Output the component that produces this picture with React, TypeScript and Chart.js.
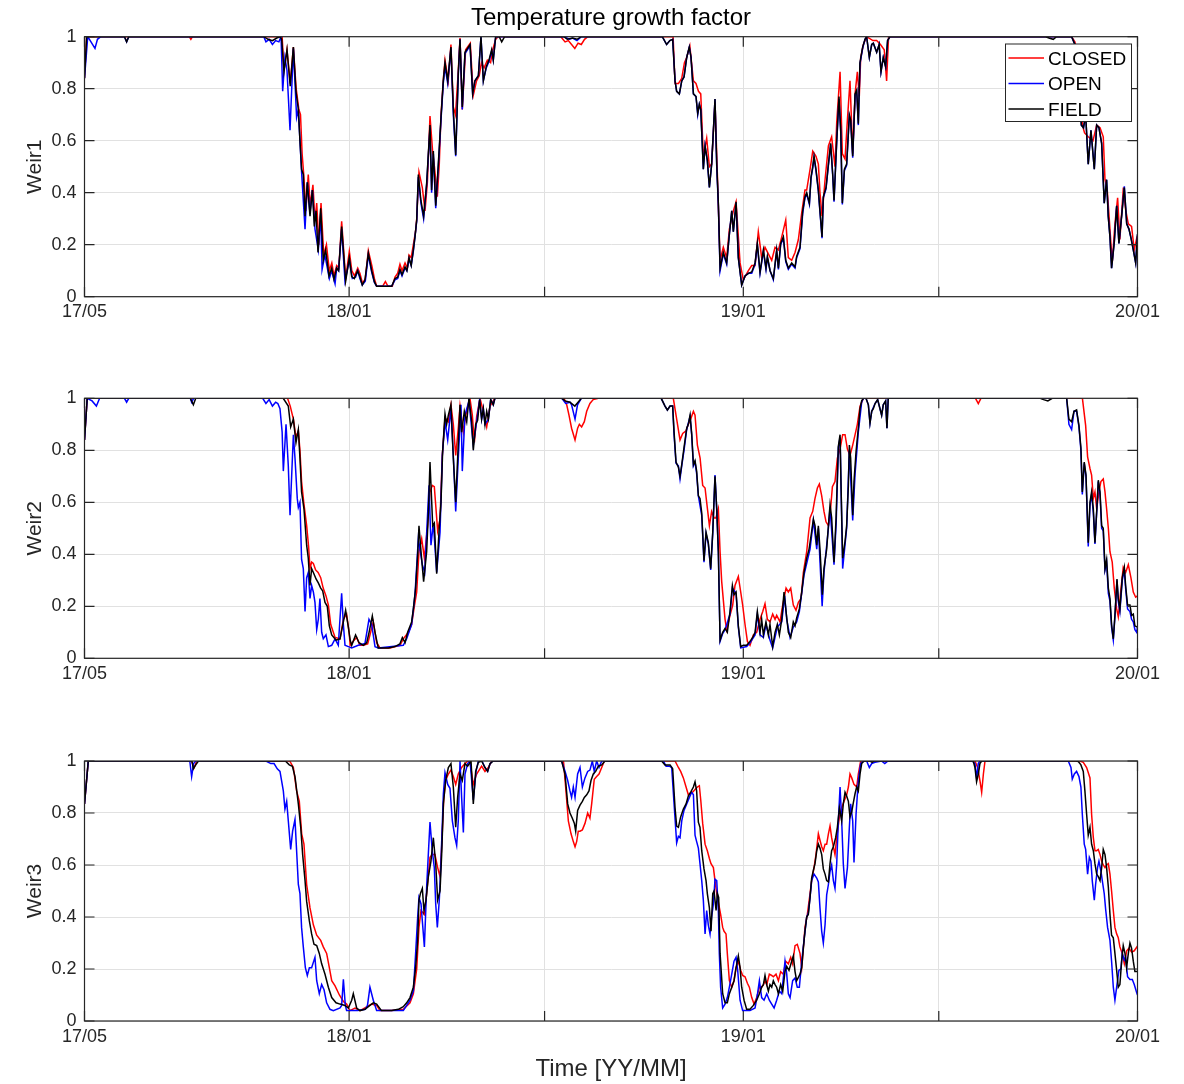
import { useEffect, useRef } from "react";
import { Chart, registerables } from "chart.js";

Chart.register(...registerables);

// x values are days since 1 May 2017, y values are the growth factor (0..1)
type Pt = [number, number];

const X_TICK_DAYS = [0, 245, 426, 610, 791, 975];
const X_TICK_LABELS = ["17/05", "18/01", "", "19/01", "", "20/01"];
const Y_TICKS = [0, 0.2, 0.4, 0.6, 0.8, 1];
const SERIES_NAMES = ["CLOSED", "OPEN", "FIELD"];
const SERIES_COLORS = ["#ff0000", "#0000ff", "#000000"];
const PANEL_LABELS = ["Weir1", "Weir2", "Weir3"];
const TITLE = "Temperature growth factor";
const X_LABEL = "Time [YY/MM]";

const WEIR1_CLOSED: Pt[] = [[0,0.84],[2,1],[97,1],[98.5,0.99],[100,1],[183,1],[184.7,0.87],[187.5,0.95],[190.5,0.82],[193.4,0.96],[196,0.8],[198.5,0.72],[200,0.7],[201.5,0.55],[203,0.47],[205,0.33],[207.2,0.47],[209,0.35],[211.5,0.43],[213.5,0.29],[215,0.36],[217,0.2],[219,0.36],[221.5,0.16],[224,0.2],[226.7,0.1],[229,0.13],[231,0.08],[233.5,0.12],[235.5,0.11],[238.1,0.29],[241.8,0.07],[245.2,0.175],[247.5,0.1],[250,0.08],[253,0.11],[255,0.09],[257.5,0.05],[260,0.07],[262.8,0.177],[266,0.12],[268.4,0.07],[270.5,0.04],[276,0.04],[278.6,0.058],[281,0.04],[285,0.04],[287.5,0.075],[290,0.09],[292.1,0.125],[294,0.1],[296.8,0.13],[299,0.11],[300.5,0.16],[302.5,0.15],[304.5,0.2],[306.5,0.25],[307.6,0.3],[309.7,0.48],[312.8,0.42],[315.3,0.33],[317.5,0.44],[319.9,0.695],[322.5,0.55],[324,0.5],[326.7,0.385],[328.5,0.51],[330.1,0.7],[332.5,0.85],[333.8,0.91],[336.8,0.83],[339.3,0.97],[341.5,0.73],[343.5,0.7],[346.1,0.87],[347.7,0.995],[349.8,0.72],[352.9,0.95],[357.2,0.975],[360,0.775],[363,0.83],[365.5,0.85],[367.5,0.9],[370,0.88],[373,0.91],[376,0.9],[378,0.95],[380.7,0.99],[383,1],[441,1],[445,0.98],[448,0.985],[451,0.97],[454,0.955],[457,0.975],[460,0.97],[463,0.99],[466,1],[545,1],[546.8,0.82],[550,0.82],[553,0.84],[555.5,0.9],[557.6,0.92],[560.5,0.965],[563.8,0.83],[566.2,0.82],[568.5,0.79],[570.6,0.78],[573,0.54],[576.1,0.61],[578.6,0.5],[580.7,0.51],[583.8,0.75],[586,0.47],[588.5,0.14],[591.5,0.19],[594.6,0.15],[597.1,0.26],[600.8,0.33],[603.3,0.365],[607,0.13],[610,0.065],[614.7,0.1],[617.8,0.12],[620.9,0.12],[623.9,0.25],[627,0.15],[630.1,0.19],[633.2,0.165],[636.3,0.14],[639.4,0.19],[642.5,0.18],[645.6,0.23],[649.3,0.295],[651.7,0.15],[654.8,0.14],[657.9,0.17],[661,0.22],[664,0.32],[667.1,0.41],[668.7,0.41],[671.8,0.49],[674.3,0.56],[677.3,0.54],[679.5,0.51],[681,0.4],[682.9,0.31],[685.7,0.45],[688.8,0.58],[691.8,0.615],[694.9,0.5],[696.5,0.67],[699.6,0.865],[701.7,0.55],[704.2,0.53],[706.4,0.68],[708.8,0.83],[711.3,0.55],[713.5,0.78],[715.6,0.865],[717.4,0.77],[718.7,0.92],[721.2,0.97],[724.2,1],[730,0.985],[733.5,0.985],[737,0.97],[740.5,0.95],[742.7,0.83],[744.5,1],[914,1],[917,0.98],[920,0.93],[922,0.8],[924,0.66],[926,0.63],[929.4,0.615],[933.8,0.6],[937.2,0.66],[940.3,0.65],[943.3,0.615],[944.9,0.45],[947,0.41],[949.5,0.26],[951.6,0.13],[954.1,0.28],[956.6,0.38],[958.7,0.22],[961.9,0.42],[964,0.335],[966.5,0.28],[969.5,0.27],[972,0.18],[974.5,0.23],[975,0.23]];

const WEIR1_OPEN: Pt[] = [[0,0.84],[3,1],[6,0.98],[9.7,0.955],[12,0.99],[15,1],[37,1],[39,0.98],[41,1],[166,1],[168,0.98],[171,0.99],[174,0.97],[177,0.985],[180,0.98],[182,1],[183.5,0.79],[185.6,0.92],[187.5,0.87],[190.3,0.64],[193.4,0.955],[196.4,0.69],[198,0.72],[201,0.48],[204.2,0.26],[206.3,0.44],[208.8,0.32],[211,0.41],[213.4,0.26],[216.5,0.18],[218.7,0.32],[220,0.105],[222.6,0.16],[226.7,0.07],[228.9,0.1],[232,0.05],[233.5,0.11],[235.3,0.1],[238.1,0.26],[241.2,0.06],[245.2,0.14],[248,0.07],[251,0.075],[253,0.1],[255,0.07],[257.2,0.045],[260,0.06],[262.8,0.16],[265.9,0.095],[268.4,0.055],[270.5,0.04],[284.4,0.04],[287.5,0.065],[290,0.07],[292.1,0.1],[294,0.08],[296.8,0.11],[298.5,0.1],[300.5,0.145],[302.5,0.12],[304.5,0.175],[306,0.23],[307.6,0.29],[309.1,0.46],[311.5,0.36],[314,0.3],[316.8,0.43],[319.9,0.65],[321.4,0.4],[323,0.55],[325.2,0.34],[327.6,0.5],[330.1,0.68],[332.2,0.82],[333.8,0.885],[336.3,0.82],[339.3,0.955],[341.5,0.7],[343.7,0.54],[346.1,0.85],[347.7,0.99],[349.8,0.72],[352.3,0.935],[357,0.965],[359.4,0.78],[361.5,0.83],[364.7,0.85],[367.1,1],[369.3,0.83],[372,0.88],[374.5,0.905],[377,0.945],[378.5,0.91],[380.7,1],[444,1],[449,0.99],[452,0.995],[456,0.985],[460,1],[535,1],[539,0.97],[542,0.985],[544.6,0.99],[546.8,0.83],[548.3,0.79],[550.8,0.78],[553,0.83],[555.1,0.845],[557.6,0.92],[560,0.96],[561.6,0.92],[563.8,0.78],[566.2,0.77],[567.8,0.7],[569.3,0.74],[570.6,0.72],[573,0.49],[574.6,0.58],[576.7,0.52],[578.6,0.42],[580.7,0.51],[583.8,0.76],[585.4,0.5],[586.9,0.35],[588.5,0.1],[591.5,0.165],[594.6,0.125],[597.1,0.24],[599.3,0.33],[600.8,0.25],[603.3,0.36],[605.4,0.15],[608.5,0.045],[611.6,0.08],[614.7,0.09],[617.8,0.09],[620.9,0.125],[623,0.2],[625.5,0.09],[628.6,0.175],[631,0.105],[632.3,0.15],[634.8,0.1],[637.8,0.065],[640.9,0.175],[642.5,0.105],[644.6,0.2],[647.1,0.225],[649.3,0.135],[651.7,0.105],[654.8,0.125],[657.9,0.11],[659.4,0.15],[662.5,0.185],[665,0.32],[667.1,0.38],[668.7,0.395],[671.2,0.355],[672.7,0.455],[674.3,0.495],[675.5,0.535],[677.3,0.485],[679.5,0.405],[681,0.325],[682.9,0.225],[684.1,0.38],[686.6,0.415],[688.8,0.505],[690.9,0.585],[692.8,0.465],[694,0.365],[696.5,0.595],[698.6,0.76],[700.2,0.635],[701.7,0.355],[703.6,0.485],[705.7,0.505],[708.2,0.695],[709.4,0.675],[711.3,0.535],[713.5,0.775],[715,0.79],[716.5,0.66],[718,0.895],[720.5,0.955],[722.7,0.99],[724.2,1],[726.7,0.92],[728.9,0.97],[730.4,0.975],[733.5,0.94],[735.8,0.97],[737.5,0.865],[739.6,0.92],[741.8,0.885],[743.6,0.985],[745.8,1],[914,1],[917,0.97],[919,0.9],[921,0.8],[923,0.66],[925,0.65],[927,0.7],[929.4,0.51],[931.9,0.64],[935,0.49],[937.2,0.66],[939.3,0.65],[941.8,0.59],[944.2,0.36],[946.4,0.45],[947.9,0.31],[949.5,0.23],[951,0.11],[953.5,0.21],[955.7,0.35],[957.8,0.205],[960.3,0.31],[962.8,0.425],[965,0.28],[967.1,0.26],[969,0.225],[971.1,0.18],[973.3,0.13],[975,0.24]];

const WEIR1_FIELD: Pt[] = [[0,0.84],[2,1],[37,1],[39,0.98],[41,1],[166,1],[170,0.99],[174,0.985],[178,0.995],[181,1],[182.6,0.99],[184.7,0.865],[187.5,0.95],[190.5,0.81],[193.4,0.96],[195.8,0.79],[198,0.72],[199.5,0.6],[201,0.49],[202.6,0.47],[204.2,0.31],[206.3,0.44],[208.8,0.31],[211,0.41],[212.8,0.27],[214.4,0.33],[216.2,0.17],[218.7,0.34],[221.1,0.14],[223.3,0.18],[226.4,0.08],[228.9,0.11],[231,0.067],[233.5,0.11],[235.3,0.1],[238.1,0.27],[241.8,0.06],[245.2,0.15],[247.4,0.077],[249.8,0.07],[252.9,0.1],[255,0.077],[257.2,0.045],[259.7,0.065],[262.8,0.167],[265.9,0.1],[268.4,0.058],[270.5,0.04],[284.4,0.04],[287.5,0.07],[290,0.075],[292.1,0.105],[294,0.085],[296.8,0.115],[298.5,0.1],[300.5,0.15],[302.5,0.12],[304.5,0.18],[306,0.23],[307.6,0.295],[309.1,0.47],[311.5,0.37],[314,0.31],[316.8,0.435],[319.9,0.66],[321.4,0.41],[323,0.56],[325.2,0.35],[327.6,0.51],[330.1,0.69],[332.2,0.83],[333.8,0.9],[336.3,0.83],[339.3,0.96],[341.5,0.72],[343.7,0.545],[346.1,0.86],[347.7,0.99],[349.8,0.73],[352.3,0.94],[357,0.97],[359.4,0.78],[361.5,0.83],[364.7,0.85],[367.1,1],[369.3,0.83],[372,0.885],[374.5,0.91],[377,0.95],[378.5,0.91],[380.7,1],[384,1],[386.3,0.98],[389,1],[444,1],[447,0.99],[452,0.995],[456,0.99],[460,1],[535,1],[539,0.97],[542,0.985],[544.6,0.99],[546.8,0.83],[548.3,0.79],[550.8,0.78],[553,0.83],[555.1,0.845],[557.6,0.92],[560,0.96],[561.6,0.92],[563.8,0.78],[566.2,0.77],[567.8,0.705],[569.3,0.74],[570.6,0.72],[573,0.49],[574.6,0.58],[576.7,0.525],[578.6,0.42],[580.7,0.51],[583.8,0.76],[585.4,0.51],[586.9,0.36],[588.5,0.11],[591.5,0.17],[594.6,0.13],[597.1,0.24],[599.3,0.33],[600.8,0.25],[603.3,0.365],[605.4,0.15],[608.5,0.045],[611.6,0.08],[614.7,0.09],[617.8,0.095],[620.9,0.13],[623,0.205],[625.5,0.095],[628.6,0.18],[631,0.11],[632.3,0.155],[634.8,0.1],[637.8,0.07],[640.9,0.18],[642.5,0.11],[644.6,0.205],[647.1,0.23],[649.3,0.14],[651.7,0.11],[654.8,0.13],[657.9,0.115],[659.4,0.155],[662.5,0.19],[665,0.33],[667.1,0.385],[668.7,0.4],[671.2,0.36],[672.7,0.46],[674.3,0.5],[675.5,0.54],[677.3,0.49],[679.5,0.41],[681,0.33],[682.9,0.23],[684.1,0.385],[686.6,0.42],[688.8,0.51],[690.9,0.59],[692.8,0.47],[694,0.37],[696.5,0.6],[698.6,0.77],[700.2,0.64],[701.7,0.36],[703.6,0.49],[705.7,0.51],[708.2,0.7],[709.4,0.68],[711.3,0.54],[713.5,0.78],[715,0.795],[716.5,0.665],[718,0.9],[720.5,0.96],[722.7,0.99],[724.2,1],[726.7,0.92],[728.9,0.97],[730.4,0.975],[733.5,0.94],[735.8,0.97],[737.5,0.865],[739.6,0.92],[741.8,0.885],[743.6,0.985],[745.8,1],[890,1],[893,0.995],[897,0.99],[900,1],[914,1],[917,0.97],[919,0.9],[921,0.8],[923,0.66],[925,0.65],[927,0.7],[929.4,0.51],[931.9,0.64],[935,0.49],[937.2,0.66],[939.3,0.65],[941.8,0.59],[944.2,0.36],[946.4,0.45],[947.9,0.31],[949.5,0.23],[951,0.11],[953.5,0.21],[955.7,0.35],[957.8,0.205],[960.3,0.31],[962.8,0.42],[965,0.28],[967.1,0.26],[969,0.225],[971.1,0.18],[973.3,0.13],[975,0.24]];

const WEIR2_CLOSED: Pt[] = [[0,0.84],[2.5,1],[188,1],[190.5,0.97],[193.4,0.92],[195.8,0.85],[198,0.875],[199.5,0.8],[201,0.68],[203,0.6],[205.7,0.51],[207.5,0.43],[208.8,0.345],[210.3,0.37],[211.9,0.365],[214,0.34],[216.3,0.33],[218.7,0.31],[221,0.27],[223.6,0.24],[225.8,0.205],[228,0.13],[232,0.08],[236.6,0.075],[239.7,0.15],[242.7,0.17],[245,0.1],[246,0.05],[249.8,0.07],[252,0.08],[255,0.05],[258.2,0.05],[262.2,0.055],[267.4,0.14],[270.5,0.06],[273.6,0.04],[282.9,0.04],[292.1,0.05],[295.2,0.075],[299.9,0.1],[302.9,0.13],[305.4,0.2],[307.6,0.255],[309.7,0.41],[312.2,0.46],[314.7,0.385],[317.7,0.51],[319.9,0.64],[322,0.665],[323.9,0.66],[327,0.49],[329.2,0.535],[331.3,0.78],[333.8,0.925],[336.9,0.91],[339.3,0.975],[341.5,0.9],[343.7,0.78],[346.1,0.885],[347.7,0.97],[350.8,0.87],[353,0.935],[356.9,1],[359.1,0.935],[361,0.83],[363.1,0.93],[366.2,1],[369.3,0.95],[372.4,0.89],[375.5,0.97],[378.5,0.99],[380,1],[444,1],[446.5,0.975],[448.6,0.935],[451,0.885],[454.2,0.84],[456.6,0.885],[458.2,0.9],[460.3,0.89],[462.8,0.91],[465,0.95],[468,0.98],[471,0.995],[475.8,1],[545.2,1],[548.3,0.92],[551.4,0.84],[553.9,0.865],[557,0.875],[559.1,0.9],[561.3,0.92],[563.8,0.95],[565.3,0.935],[567.5,0.82],[570,0.77],[572.4,0.665],[574.6,0.655],[576.1,0.6],[578.6,0.51],[580.7,0.565],[582.9,0.54],[584.7,0.54],[586.9,0.575],[588.5,0.41],[590,0.295],[593.1,0.15],[594.6,0.11],[597.7,0.165],[600.2,0.205],[602.3,0.28],[605.4,0.315],[607.6,0.255],[609.4,0.205],[611.6,0.13],[613.8,0.065],[616.2,0.05],[619.3,0.09],[622.4,0.1],[625.5,0.15],[628,0.18],[630.1,0.21],[632.3,0.15],[634.7,0.14],[637.2,0.17],[639.4,0.15],[640.9,0.165],[644,0.14],[646.5,0.205],[649.6,0.27],[651.7,0.255],[653.9,0.27],[656.3,0.205],[658.8,0.185],[661,0.215],[663.5,0.23],[665.6,0.33],[668.7,0.41],[671.8,0.54],[674.3,0.565],[676.4,0.615],[678.6,0.655],[680.4,0.67],[682.6,0.625],[684.7,0.565],[686.6,0.525],[688.8,0.51],[690.3,0.55],[692.5,0.66],[694.9,0.68],[697.1,0.77],[699.6,0.805],[702,0.86],[704.2,0.86],[706.4,0.805],[708.8,0.78],[711.3,0.82],[713.5,0.86],[715.6,0.9],[718.1,0.97],[721.2,1],[825,1],[827.6,0.98],[830,1],[924,1],[927,0.895],[928.8,0.775],[931,0.73],[932.5,0.705],[934.1,0.615],[935.6,0.64],[937.2,0.575],[939.3,0.64],[941.1,0.68],[943.3,0.69],[944.9,0.64],[946.4,0.575],[948,0.5],[949.5,0.41],[951.6,0.37],[953.5,0.27],[955.7,0.19],[957.2,0.16],[959.4,0.255],[961.8,0.35],[964,0.33],[966.5,0.36],[968.9,0.31],[971.1,0.255],[973.3,0.235],[975,0.24]];

const WEIR2_OPEN: Pt[] = [[0,0.84],[2.5,1],[7,0.99],[11,0.97],[14,1],[37,1],[39,0.985],[41,1],[98,1],[99.2,0.985],[101,1],[165,1],[168,0.98],[171,0.995],[174,0.97],[177,0.985],[179,0.98],[181,0.96],[183,0.87],[184.1,0.72],[186.6,0.9],[188.7,0.74],[190.3,0.55],[191.8,0.7],[193.4,0.86],[194.9,0.77],[197,0.615],[198,0.58],[199.5,0.6],[201,0.38],[202.6,0.345],[204.2,0.18],[205.7,0.31],[207.2,0.33],[208.8,0.23],[210.3,0.28],[211.9,0.255],[213.4,0.215],[215,0.11],[216.5,0.15],[218,0.23],[219.6,0.1],[221.1,0.075],[223.6,0.09],[225.8,0.045],[228.9,0.05],[232,0.075],[235,0.05],[238.1,0.25],[239.7,0.13],[241.2,0.05],[244.3,0.045],[247.4,0.04],[253.5,0.05],[259.7,0.057],[263.4,0.15],[265.9,0.13],[269,0.045],[272,0.04],[295.2,0.05],[298.3,0.075],[302.9,0.13],[306,0.245],[309.1,0.46],[312.8,0.36],[315,0.33],[319,0.665],[320.8,0.435],[323,0.52],[326.1,0.33],[329.2,0.485],[331.3,0.78],[333.8,0.91],[336.3,0.84],[339.3,0.96],[341.5,0.78],[343.7,0.565],[346.1,0.77],[348.6,0.975],[349.8,0.72],[352.3,0.935],[356,0.99],[360,0.82],[363.1,0.91],[365.9,0.995],[367.7,0.92],[369.3,0.96],[370.8,0.9],[374,0.92],[376.1,0.995],[378.5,0.975],[380,1],[442,1],[445.5,0.98],[449.5,0.985],[451,0.975],[454.2,0.92],[456.5,0.975],[460,1],[534,1],[537.5,0.97],[539.7,0.955],[542.2,0.97],[544.6,0.97],[545.9,0.86],[547.7,0.75],[549.9,0.74],[551.4,0.69],[553,0.74],[555.1,0.8],[557.6,0.88],[560.7,0.93],[562.2,0.86],[563.8,0.74],[565.3,0.755],[566.8,0.71],[568.4,0.625],[571.5,0.55],[573.6,0.37],[575.5,0.48],[577.6,0.44],[579.8,0.34],[581.7,0.48],[583.8,0.705],[585.4,0.57],[586.9,0.41],[588.5,0.065],[590.9,0.095],[593.1,0.11],[597.7,0.17],[599.9,0.27],[603.3,0.25],[605.4,0.12],[607.6,0.04],[613.1,0.045],[616.2,0.06],[620.9,0.09],[623,0.17],[625.5,0.09],[628.6,0.08],[631,0.13],[634.7,0.07],[637.2,0.04],[641.5,0.12],[645.6,0.14],[648.3,0.24],[650.2,0.15],[653.3,0.08],[656.3,0.12],[659.4,0.14],[661.9,0.18],[666.2,0.32],[671.8,0.42],[674.9,0.53],[678,0.42],[679.5,0.5],[683,0.2],[684.7,0.33],[688.8,0.5],[690.3,0.58],[694,0.36],[696,0.52],[698,0.81],[699.6,0.85],[702,0.345],[705.7,0.5],[708.2,0.8],[711.3,0.53],[713.5,0.71],[716.5,0.87],[719.6,0.985],[721.2,1],[723.6,1],[725.8,0.975],[727.3,0.905],[728.9,0.95],[732,0.98],[734.4,0.995],[738.1,0.935],[739.6,0.975],[741.8,0.99],[743,0.885],[744.2,1],[909.4,1],[911.5,0.9],[914,0.88],[916.2,0.95],[918.6,0.95],[920.8,0.89],[922.6,0.8],[923.9,0.63],[925.7,0.75],[927.3,0.7],[929.4,0.43],[931,0.59],[932.5,0.63],[934.1,0.56],[935.6,0.44],[937.2,0.56],[938.7,0.68],[940.3,0.63],[941.8,0.5],[943.3,0.49],[944.9,0.34],[946.4,0.37],[948,0.25],[949.5,0.22],[951,0.12],[952.6,0.07],[954.1,0.16],[956,0.3],[957.2,0.22],[958.7,0.18],[960.9,0.3],[962.8,0.34],[964,0.27],[965.8,0.19],[968,0.18],[969.5,0.15],[971.1,0.14],[972.6,0.11],[974.2,0.1],[975,0.12]];

const WEIR2_FIELD: Pt[] = [[0,0.84],[2.5,1],[98,1],[100.8,0.975],[103,1],[184,1],[188.7,0.97],[190.9,0.89],[193.4,0.92],[195.8,0.83],[198,0.88],[199.5,0.77],[201,0.64],[203.2,0.575],[205.7,0.435],[207.2,0.385],[208.8,0.28],[210.3,0.345],[211.9,0.33],[214.4,0.305],[216.5,0.29],[218.7,0.27],[220.5,0.26],[222.7,0.215],[224.8,0.2],[226.7,0.125],[228.9,0.09],[232.9,0.07],[236.6,0.075],[239.7,0.14],[241.8,0.185],[244.3,0.12],[246,0.07],[247.4,0.05],[251,0.09],[254.2,0.06],[258.2,0.05],[261.3,0.06],[263.5,0.1],[266.5,0.163],[269,0.1],[272,0.04],[281.3,0.04],[287.5,0.045],[292,0.055],[294.3,0.08],[296.8,0.06],[299.2,0.1],[302.9,0.14],[304.5,0.19],[306.6,0.27],[308.5,0.4],[309.7,0.51],[311.6,0.41],[314,0.295],[316.8,0.41],[318.4,0.56],[319.9,0.755],[321.4,0.61],[322.4,0.51],[323.9,0.52],[326.1,0.325],[328.2,0.485],[330.1,0.6],[331.6,0.795],[333.8,0.94],[335.3,0.9],[336.9,0.935],[339.3,0.975],[341.5,0.77],[343.7,0.6],[345.5,0.77],[347.7,0.975],[349.2,0.87],[351.7,0.95],[353.9,0.91],[356,1],[358.5,0.91],[360,0.8],[362.2,0.9],[364,0.915],[365.9,0.995],[367.7,0.92],[369.3,0.96],[370.8,0.9],[372.4,0.95],[374,0.92],[376.1,0.995],[378.5,0.975],[380,1],[442,1],[445,0.99],[449.5,0.985],[454,0.97],[457,0.985],[460,1],[534,1],[537.5,0.97],[539.7,0.955],[542.2,0.97],[544.6,0.97],[545.9,0.87],[547.7,0.755],[549.9,0.735],[551.4,0.7],[553,0.745],[555.1,0.81],[557.6,0.885],[559.1,0.9],[560.7,0.935],[562.2,0.865],[563.8,0.745],[565.3,0.76],[566.8,0.72],[568.4,0.625],[569.9,0.615],[571.5,0.56],[573.6,0.375],[575.5,0.485],[577.6,0.445],[579.8,0.345],[581.7,0.485],[583.8,0.7],[585.4,0.575],[586.9,0.41],[588.5,0.07],[590.9,0.1],[593.1,0.115],[595.2,0.1],[597.7,0.18],[599.9,0.28],[601.4,0.245],[603.3,0.255],[605.4,0.125],[607.6,0.045],[610,0.05],[613.1,0.05],[616.2,0.065],[618.7,0.08],[620.9,0.1],[623,0.18],[625.5,0.1],[627,0.15],[628.6,0.09],[631,0.14],[633.2,0.09],[634.7,0.13],[637.2,0.045],[639.4,0.1],[641.5,0.13],[643.4,0.09],[645.6,0.15],[647.7,0.255],[649.6,0.18],[651.7,0.1],[653.9,0.08],[656.3,0.14],[657.9,0.125],[659.4,0.155],[661.9,0.19],[664.1,0.255],[666.2,0.33],[668.7,0.385],[670.9,0.42],[672.7,0.47],[674.9,0.535],[676.4,0.51],[678,0.435],[679.5,0.51],[681,0.42],[683.2,0.245],[684.7,0.345],[687.2,0.42],[688.8,0.51],[690.3,0.59],[691.8,0.54],[694,0.37],[695.9,0.54],[698,0.815],[699.6,0.86],[700.5,0.665],[702,0.385],[704.2,0.45],[705.7,0.51],[707.3,0.665],[708.2,0.82],[709.4,0.77],[711.3,0.55],[712.5,0.68],[714.4,0.795],[716.5,0.885],[718.1,0.96],[719.6,0.99],[721.2,1],[723.6,1],[725.8,0.975],[727.3,0.905],[728.9,0.95],[730.4,0.96],[732,0.98],[734.4,0.995],[738.1,0.935],[739.6,0.975],[741.8,0.99],[743,0.885],[744.2,1],[885,1],[888,0.995],[892,0.99],[896,1],[909.4,1],[911.5,0.92],[914,0.91],[916.2,0.95],[918.6,0.955],[920.8,0.895],[922.6,0.81],[923.9,0.64],[925.7,0.755],[927.3,0.705],[929.4,0.445],[931,0.6],[932.5,0.64],[934.1,0.575],[935.6,0.445],[937.2,0.565],[938.7,0.685],[940.3,0.64],[941.8,0.51],[943.3,0.5],[944.9,0.345],[946.4,0.38],[948,0.27],[949.5,0.23],[951,0.13],[952.6,0.075],[954.1,0.165],[956,0.305],[957.2,0.23],[958.7,0.19],[960.9,0.31],[962.8,0.35],[964,0.28],[965.8,0.205],[968,0.205],[969.5,0.165],[971.1,0.17],[972.6,0.125],[975,0.12]];

const WEIR3_CLOSED: Pt[] = [[0,0.835],[3.5,1],[99,1],[101.5,0.975],[104,1],[190,1],[193.4,0.975],[196.4,0.885],[198.9,0.845],[201.1,0.72],[203.2,0.68],[205.7,0.525],[208.8,0.435],[211.9,0.37],[215,0.33],[218.7,0.31],[221.1,0.285],[224.2,0.26],[226.7,0.205],[228.9,0.155],[232,0.135],[236,0.1],[239.7,0.075],[242.7,0.065],[245.8,0.04],[250.5,0.05],[255.1,0.04],[265.9,0.065],[270.5,0.06],[273.6,0.04],[284.4,0.04],[295.2,0.045],[301.4,0.07],[304.5,0.105],[307.6,0.2],[309.7,0.36],[311.6,0.425],[314.7,0.41],[316.8,0.49],[319.9,0.63],[322,0.64],[324.5,0.64],[327,0.59],[329.2,0.555],[330.7,0.67],[332.6,0.85],[334.4,0.925],[336.9,0.95],[339.3,0.965],[341.5,0.94],[343.7,0.91],[346.1,0.95],[349.2,0.975],[352.3,0.99],[354.8,1],[357,0.995],[360,0.91],[363.1,0.95],[367.7,0.98],[370.8,0.96],[373.9,0.975],[377,1],[443.5,1],[445.5,0.9],[448,0.77],[450.5,0.72],[452.6,0.69],[454.2,0.67],[455.7,0.69],[457.2,0.73],[458.8,0.73],[461,0.735],[463.4,0.76],[465.9,0.8],[468,0.78],[469.6,0.835],[472,0.93],[474.2,0.94],[476.4,0.95],[478.9,0.975],[481.3,1],[546.8,1],[549.9,0.975],[552,0.96],[554.5,0.935],[557,0.9],[559.1,0.87],[560.7,0.875],[563.1,0.88],[565.3,0.89],[567.5,0.9],[569.3,0.905],[570.6,0.85],[572.4,0.76],[574.6,0.68],[576.7,0.655],[578.6,0.625],[580.1,0.605],[582.3,0.59],[583.8,0.54],[585.4,0.49],[587.2,0.45],[589,0.41],[590.9,0.36],[592.2,0.345],[594,0.335],[595.2,0.26],[597.1,0.155],[599.3,0.13],[601.4,0.155],[603.3,0.205],[605.4,0.23],[607.6,0.195],[609.4,0.175],[611.6,0.17],[613.8,0.145],[615.6,0.13],[617.8,0.09],[620,0.065],[622.4,0.09],[624.9,0.13],[627,0.13],[628.6,0.14],[630.1,0.155],[631.7,0.14],[634.1,0.18],[636.3,0.175],[637.8,0.17],[640.3,0.18],[642.5,0.155],[644.6,0.19],[647.1,0.18],[649.3,0.23],[651.7,0.22],[653.9,0.245],[655.7,0.22],[657.9,0.29],[660,0.295],[662.5,0.26],[664.1,0.205],[665.6,0.28],[667.1,0.36],[669.3,0.41],[671.8,0.49],[673.3,0.54],[675.5,0.59],[677.3,0.64],[679.5,0.72],[681,0.695],[682.6,0.67],[684.1,0.655],[685.7,0.68],[687.2,0.68],[688.8,0.72],[690.3,0.75],[691.8,0.705],[693.4,0.67],[694.9,0.64],[696.5,0.705],[699,0.785],[701.1,0.82],[703.3,0.845],[705.7,0.87],[707.3,0.9],[708.8,0.95],[710.4,0.935],[712.5,0.91],[715,0.9],[716.5,0.95],[718.7,1],[824.5,1],[827,0.975],[829.1,0.925],[830.7,0.88],[832.3,0.95],[833.8,1],[921.7,1],[924.8,0.995],[927.9,0.975],[931,0.935],[932.5,0.795],[934.1,0.705],[935.6,0.655],[937.2,0.655],[938.7,0.66],[940.3,0.64],[941.8,0.615],[943.3,0.6],[944.9,0.59],[946.4,0.6],[948,0.605],[949.5,0.565],[951,0.5],[952.6,0.425],[954.1,0.36],[955.7,0.335],[957.2,0.32],[958.7,0.285],[960.9,0.26],[962.8,0.22],[965,0.27],[967.1,0.28],[969.5,0.265],[972,0.27],[974.5,0.285],[975,0.28]];

const WEIR3_OPEN: Pt[] = [[0,0.835],[3.5,1],[97.5,1],[99.2,0.94],[101,0.99],[103,1],[168,1],[172.5,0.99],[175.5,0.99],[178.5,0.97],[181,0.96],[184.1,0.885],[185.6,0.815],[187.2,0.845],[188.7,0.77],[190.9,0.66],[192.7,0.73],[194.9,0.775],[196.4,0.655],[198,0.525],[199.5,0.49],[201,0.36],[202.6,0.285],[204.5,0.205],[206.3,0.175],[208.2,0.205],[210.3,0.205],[213.4,0.245],[215,0.155],[217.4,0.105],[219.6,0.14],[221.8,0.12],[224.2,0.07],[227.3,0.045],[230.4,0.04],[236.6,0.05],[238.1,0.06],[239.7,0.16],[241.5,0.06],[242.7,0.04],[245.8,0.04],[253,0.04],[260,0.045],[262,0.06],[264.3,0.13],[267.4,0.08],[270.5,0.04],[295.2,0.04],[298.3,0.06],[301.4,0.08],[304.5,0.115],[306.6,0.26],[308.5,0.4],[309.7,0.475],[311.6,0.45],[312.8,0.385],[314.7,0.285],[316.8,0.515],[318.4,0.645],[319.9,0.765],[322,0.655],[323.9,0.59],[325.2,0.45],[326.7,0.36],[328.5,0.465],[330,0.605],[332.3,0.875],[333.8,0.955],[336.3,0.91],[338.4,0.895],[340.6,0.77],[343,0.705],[344.6,0.675],[346.1,0.77],[347.7,1],[349.2,0.86],[350.8,0.725],[352.3,0.95],[354.8,0.99],[357,1],[360,0.85],[362.5,0.96],[364.7,1],[368,1],[370.8,0.975],[373.3,0.96],[375.5,0.99],[378,1],[441.8,1],[445,0.96],[447.4,0.925],[449.5,0.885],[451,0.86],[452.6,0.9],[454.2,0.86],[456.6,0.95],[458.8,0.975],[461,0.9],[463.4,0.935],[465.9,0.96],[468,0.965],[470.2,1],[472,0.96],[474.2,1],[476.4,0.975],[478.9,1],[536,1],[538.5,0.98],[541.5,0.98],[543.7,0.975],[545.9,0.835],[548.3,0.685],[549.9,0.71],[551.4,0.705],[553,0.77],[555.1,0.81],[557.6,0.835],[560.1,0.86],[562.2,0.88],[563.8,0.87],[565.3,0.715],[566.8,0.69],[568.4,0.665],[569.9,0.605],[571.5,0.54],[573,0.465],[574.6,0.335],[576.1,0.425],[577.6,0.37],[579.2,0.335],[580.7,0.4],[582.3,0.45],[583.8,0.545],[585.4,0.54],[586.9,0.425],[587.8,0.26],[589,0.13],[590.9,0.05],[593.1,0.065],[595.2,0.09],[597.1,0.13],[599.3,0.18],[601.4,0.23],[603.3,0.245],[604.8,0.195],[607,0.08],[609.4,0.04],[616.2,0.04],[620.9,0.05],[623,0.1],[624.9,0.155],[627,0.09],[629.2,0.08],[631.7,0.105],[634.1,0.08],[636.3,0.065],[638.5,0.05],[640.9,0.08],[643.4,0.115],[645.6,0.105],[648.6,0.23],[650.2,0.18],[651.7,0.105],[653.3,0.09],[655.7,0.155],[657.9,0.165],[660,0.13],[661.9,0.13],[664.1,0.23],[666.2,0.31],[668.7,0.4],[670.2,0.415],[671.8,0.475],[673.3,0.54],[675.5,0.565],[678,0.55],[679.5,0.535],[681,0.435],[682.6,0.345],[684.1,0.3],[685.7,0.37],[687.2,0.485],[688.8,0.525],[690.3,0.575],[691.8,0.6],[693.4,0.54],[694.9,0.51],[696.5,0.605],[698,0.77],[699.6,0.9],[701.1,0.77],[702.6,0.605],[704.2,0.51],[706.4,0.59],[708.2,0.745],[709.4,0.835],[711.3,0.77],[712.5,0.61],[714.4,0.795],[716.5,0.925],[718.7,0.99],[721.2,1],[724.2,1],[726.7,0.975],[728.9,0.99],[731.9,0.995],[738,1],[741,0.99],[744,1],[822,1],[824.5,0.99],[826,0.935],[827.6,0.99],[829,1],[910.9,1],[913.4,0.975],[914.6,0.93],[916.5,0.95],[918.6,0.96],[920.8,0.94],[922.6,0.9],[923.9,0.795],[925.7,0.68],[927,0.66],[928.8,0.565],[930.4,0.63],[931.9,0.615],[933.1,0.54],[935,0.465],[936.2,0.525],[938,0.59],[939.3,0.615],[941.2,0.575],[942.4,0.54],[944.2,0.49],[945.5,0.43],[947.3,0.36],[949.5,0.31],[951,0.23],[952.6,0.13],[954.1,0.08],[955.7,0.13],[957.8,0.195],[959.7,0.2],[960.9,0.26],[962.8,0.235],[964,0.245],[965.8,0.17],[968,0.16],[970.2,0.16],[972,0.14],[974.2,0.11],[975,0.1]];

const WEIR3_FIELD: Pt[] = [[0,0.835],[3.5,1],[98,1],[99.5,1],[100.8,0.97],[103,0.985],[105.5,1],[186,1],[189.6,0.985],[192.5,0.98],[194.9,0.94],[198,0.835],[200.2,0.745],[202,0.64],[204.2,0.54],[205.7,0.46],[208.2,0.385],[210.3,0.335],[212.5,0.295],[215,0.29],[217.4,0.26],[219.6,0.22],[222.7,0.18],[225.8,0.13],[228.9,0.09],[232.9,0.07],[236.6,0.065],[241.2,0.06],[244.3,0.05],[247.4,0.08],[248.9,0.105],[252,0.05],[255,0.04],[259.7,0.045],[264.3,0.06],[267.4,0.07],[270.5,0.065],[275,0.04],[284.4,0.04],[290.6,0.045],[295.2,0.055],[298.3,0.07],[301.4,0.09],[304.5,0.13],[306.6,0.205],[308.5,0.31],[309.7,0.465],[311,0.49],[312.8,0.51],[314.3,0.425],[316.2,0.465],[318.4,0.555],[320.8,0.615],[323,0.705],[325.2,0.605],[327,0.465],[329.2,0.5],[330.7,0.64],[332.3,0.835],[334.4,0.925],[336.9,0.975],[339.3,0.99],[341.5,0.9],[343.7,0.745],[345.5,0.86],[347.7,0.95],[349.8,0.925],[352.3,0.99],[354.8,0.98],[357.9,1],[360,0.835],[362.2,0.96],[364.7,0.995],[367.7,1],[370.8,0.975],[373.3,0.96],[375.5,0.99],[378.5,1],[441.8,1],[444.9,0.95],[447.4,0.835],[449.5,0.8],[451.7,0.78],[453.6,0.76],[454.8,0.73],[456.6,0.81],[458.8,0.83],[461,0.845],[462.8,0.86],[465,0.87],[467.1,0.885],[469,0.925],[471.1,0.95],[473.3,0.96],[475.8,0.98],[478.9,0.985],[481.9,1],[534.4,1],[537.5,0.985],[542.2,0.985],[544.6,0.97],[546.8,0.82],[548.3,0.75],[549.9,0.745],[552,0.785],[554.5,0.815],[557,0.835],[559.1,0.865],[561.3,0.88],[563.8,0.9],[565.3,0.92],[566.8,0.885],[568.4,0.765],[569.9,0.745],[571.5,0.655],[573.6,0.585],[575.5,0.54],[576.7,0.49],[578.6,0.435],[580.1,0.345],[581.7,0.49],[582.9,0.5],[584.8,0.425],[586,0.49],[587.2,0.475],[588.5,0.26],[590.9,0.105],[593.1,0.07],[595.2,0.07],[597.1,0.105],[599.3,0.13],[601.4,0.155],[603.3,0.205],[605.4,0.25],[607,0.205],[608.5,0.13],[610.7,0.08],[613.1,0.045],[616.2,0.045],[619.3,0.06],[622.4,0.08],[624.9,0.105],[627,0.13],[628.6,0.14],[630.1,0.175],[631.7,0.14],[633.2,0.115],[634.7,0.14],[636.3,0.13],[637.8,0.155],[639.4,0.14],[640.9,0.13],[642.5,0.105],[644.6,0.14],[646.5,0.115],[648.6,0.19],[650.2,0.21],[652.3,0.195],[654.8,0.23],[656.3,0.25],[657.9,0.19],[659.4,0.155],[661,0.168],[662.5,0.18],[664.1,0.205],[665.6,0.28],[667.1,0.345],[668.7,0.4],[670.2,0.41],[671.8,0.475],[673.3,0.55],[674.9,0.58],[676.4,0.605],[678,0.655],[679.5,0.68],[681,0.665],[682.6,0.64],[684.1,0.585],[685.7,0.565],[687.2,0.54],[688.8,0.535],[690.3,0.605],[691.8,0.655],[693.4,0.67],[695.5,0.705],[697.1,0.745],[699,0.82],[701.1,0.77],[702.6,0.835],[704.2,0.88],[705.7,0.865],[707.3,0.845],[708.8,0.785],[710.4,0.805],[711.9,0.84],[713.5,0.875],[715,0.9],[716.5,0.885],[718.1,0.95],[719.6,0.99],[721.8,1],[727.3,1],[729.4,0.995],[731,1],[822.9,1],[824.5,0.975],[826,0.92],[827.6,0.95],[829.1,0.99],[830.7,1],[918,1],[920.2,0.998],[922.6,0.985],[924.8,0.96],[926.3,0.885],[927.9,0.795],[929.4,0.715],[931,0.745],[932.5,0.68],[934.1,0.655],[935.6,0.605],[937.2,0.565],[938.7,0.555],[940.3,0.54],[941.8,0.59],[943.3,0.66],[944.9,0.64],[946.4,0.59],[948,0.515],[949.5,0.41],[951,0.33],[952.6,0.32],[954.1,0.26],[955.7,0.195],[957.2,0.13],[958.7,0.14],[960.3,0.23],[961.8,0.29],[963.4,0.26],[964.9,0.205],[966.5,0.26],[968,0.3],[969.5,0.28],[971.1,0.23],[972.6,0.19],[975,0.19]];

const PANEL_SERIES: Pt[][][] = [
  [WEIR1_CLOSED, WEIR1_OPEN, WEIR1_FIELD],
  [WEIR2_CLOSED, WEIR2_OPEN, WEIR2_FIELD],
  [WEIR3_CLOSED, WEIR3_OPEN, WEIR3_FIELD],
];

// page layout of the three stacked axes (canvas top, canvas height, plot-area top inside canvas)
const PANEL_LAYOUT = [
  { top: 0, height: 362, plotTop: 36.7 },
  { top: 362, height: 362, plotTop: 36.3 },
  { top: 724, height: 360, plotTop: 37 },
];
const PAGE_W = 1184;
const PLOT_H = 260;
const PLOT_LEFT = 84.5;
const PLOT_RIGHT_PAD = 46.5;

const FONT = "'Liberation Sans', Arial, Helvetica, sans-serif";
const AXIS_COLOR = "#262626";
const GRID_COLOR = "#e1e1e1";
const TICK_LEN = 10;

function framePlugin() {
  return {
    id: "axesFrame",
    afterDatasetsDraw(chart: any) {
      const { ctx, chartArea: a, scales } = chart;
      const xs = scales.x;
      const ys = scales.y;
      ctx.save();
      ctx.strokeStyle = AXIS_COLOR;
      ctx.lineWidth = 1.2;
      ctx.beginPath();
      for (const d of X_TICK_DAYS) {
        const px = xs.getPixelForValue(d);
        ctx.moveTo(px, a.bottom);
        ctx.lineTo(px, a.bottom - TICK_LEN);
        ctx.moveTo(px, a.top);
        ctx.lineTo(px, a.top + TICK_LEN);
      }
      for (const v of Y_TICKS) {
        const py = ys.getPixelForValue(v);
        ctx.moveTo(a.left, py);
        ctx.lineTo(a.left + TICK_LEN, py);
        ctx.moveTo(a.right, py);
        ctx.lineTo(a.right - TICK_LEN, py);
      }
      ctx.stroke();
      ctx.strokeRect(a.left, a.top, a.right - a.left, a.bottom - a.top);
      ctx.restore();
    },
  };
}

function titlePlugin() {
  return {
    id: "figureTitle",
    afterDraw(chart: any) {
      const { ctx, chartArea: a } = chart;
      ctx.save();
      ctx.fillStyle = "#000";
      ctx.font = `24px ${FONT}`;
      ctx.textAlign = "center";
      ctx.textBaseline = "middle";
      ctx.fillText(TITLE, (a.left + a.right) / 2, a.top - 18.5);
      ctx.restore();
    },
  };
}

function legendPlugin() {
  return {
    id: "boxLegend",
    afterDraw(chart: any) {
      const { ctx, chartArea: a } = chart;
      const w = 126;
      const h = 77.5;
      const left = a.right - 6 - w;
      const top = a.top + 7.3;
      ctx.save();
      ctx.fillStyle = "#fff";
      ctx.fillRect(left, top, w, h);
      ctx.strokeStyle = AXIS_COLOR;
      ctx.lineWidth = 1;
      ctx.strokeRect(left, top, w, h);
      ctx.font = `19px ${FONT}`;
      ctx.textAlign = "left";
      ctx.textBaseline = "middle";
      SERIES_NAMES.forEach((name, i) => {
        const rowY = top + 14 + i * 25.5;
        ctx.strokeStyle = SERIES_COLORS[i];
        ctx.lineWidth = 1.3;
        ctx.beginPath();
        ctx.moveTo(left + 3, rowY);
        ctx.lineTo(left + 38.5, rowY);
        ctx.stroke();
        ctx.fillStyle = "#000";
        ctx.fillText(name, left + 42.5, rowY + 1.5);
      });
      ctx.restore();
    },
  };
}

function makeConfig(panel: number): any {
  const lay = PANEL_LAYOUT[panel];
  const axisHeight = lay.height - lay.plotTop - PLOT_H;
  const isLast = panel === PANEL_LAYOUT.length - 1;
  const plugins: any[] = [framePlugin()];
  if (panel === 0) {
    plugins.push(titlePlugin());
    plugins.push(legendPlugin());
  }
  return {
    type: "line",
    data: {
      datasets: PANEL_SERIES[panel].map((pts, i) => ({
        label: SERIES_NAMES[i],
        data: pts.map(([x, y]) => ({ x, y })),
        borderColor: SERIES_COLORS[i],
        borderWidth: 1.5,
        pointRadius: 0,
        tension: 0,
        fill: false,
        order: SERIES_NAMES.length - 1 - i,
      })),
    },
    options: {
      responsive: false,
      maintainAspectRatio: false,
      animation: false,
      devicePixelRatio: 1,
      events: [],
      layout: { padding: { top: lay.plotTop, right: PLOT_RIGHT_PAD, left: 0, bottom: 0 } },
      plugins: { legend: { display: false }, tooltip: { enabled: false }, title: { display: false } },
      scales: {
        x: {
          type: "linear",
          min: X_TICK_DAYS[0],
          max: X_TICK_DAYS[X_TICK_DAYS.length - 1],
          afterBuildTicks: (s: any) => {
            s.ticks = X_TICK_DAYS.map((value) => ({ value }));
          },
          afterFit: (s: any) => {
            s.height = axisHeight;
          },
          grid: { color: GRID_COLOR, lineWidth: 1, drawTicks: false },
          border: { display: false },
          ticks: {
            autoSkip: false,
            maxRotation: 0,
            padding: 5,
            color: AXIS_COLOR,
            font: { family: FONT, size: 18 },
            callback: (_v: any, i: number) => X_TICK_LABELS[i],
          },
          title: {
            display: isLast,
            text: X_LABEL,
            color: AXIS_COLOR,
            font: { family: FONT, size: 24 },
            padding: 0,
          },
        },
        y: {
          type: "linear",
          min: 0,
          max: 1,
          afterBuildTicks: (s: any) => {
            s.ticks = Y_TICKS.map((value) => ({ value }));
          },
          afterFit: (s: any) => {
            s.width = PLOT_LEFT;
          },
          grid: { color: GRID_COLOR, lineWidth: 1, drawTicks: false },
          border: { display: false },
          ticks: {
            padding: 8,
            color: AXIS_COLOR,
            font: { family: FONT, size: 18 },
            callback: (v: any) => String(Math.round(Number(v) * 10) / 10),
          },
          title: {
            display: true,
            text: PANEL_LABELS[panel],
            color: AXIS_COLOR,
            font: { family: FONT, size: 21 },
            padding: { top: 23, bottom: 0 },
          },
        },
      },
    },
    plugins,
  };
}

export default function App() {
  const r0 = useRef<HTMLCanvasElement>(null);
  const r1 = useRef<HTMLCanvasElement>(null);
  const r2 = useRef<HTMLCanvasElement>(null);
  const refs = [r0, r1, r2];

  useEffect(() => {
    const charts = refs.map((r, i) => new Chart(r.current as HTMLCanvasElement, makeConfig(i)));
    return () => charts.forEach((c) => c.destroy());
  }, []);

  return (
    <div style={{ position: "absolute", left: 0, top: 0, width: PAGE_W, height: 1084, background: "#fff" }}>
      {PANEL_LAYOUT.map((p, i) => (
        <canvas
          key={i}
          ref={refs[i]}
          width={PAGE_W}
          height={p.height}
          style={{ position: "absolute", left: 0, top: p.top, width: PAGE_W, height: p.height }}
        />
      ))}
    </div>
  );
}
